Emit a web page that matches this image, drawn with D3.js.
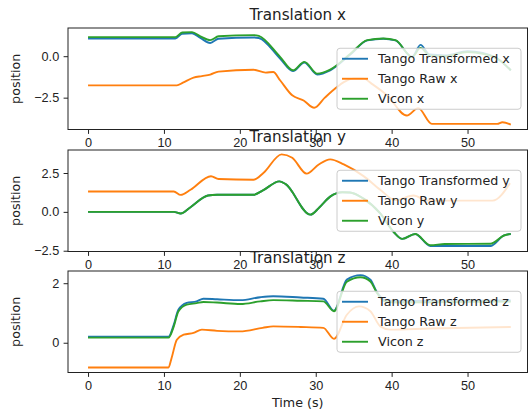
<!DOCTYPE html>
<html lang="en">
<head>
<meta charset="UTF-8">
<title>Translation</title>
<script src="https://d3js.org/d3.v7.min.js"></script>
<style>
  body { margin: 0; background: #fff; }
  svg { display: block; font-family: "DejaVu Sans", sans-serif; }
  .tick text { font-size: 12.7px; fill: #222; }
  .tick line, .domain { stroke: #222; }
</style>
</head>
<body>
<svg width="529" height="413"></svg>
<script>

// data, [time (s), position]
const xTransformed = [[0,1.07],[11.5,1.07],[12.4,1.35],[13.7,1.38],[14.8,1.1],[16.1,0.8],[17.2,1.05],[21.8,1.13],[22.5,1.1],[25.3,-0.14],[27,-0.9],[28.5,-0.38],[30.2,-1.1],[31.9,-0.85],[34.6,0.12],[36.8,0.95],[38.9,1.05],[40.5,0.95],[42.7,-0.04],[43.8,0.68],[45,0.1],[47,0.05],[50,0.3],[52,0.2],[53.9,-0.14],[55.7,-0.85]];
const xRaw = [[0,-1.76],[11.7,-1.76],[12.5,-1.6],[13.9,-1.29],[15,-1.2],[16.1,-1.11],[17.2,-0.93],[21.8,-0.82],[23.4,-0.99],[24.4,-0.95],[25.3,-1.45],[26.9,-2.36],[28.4,-2.67],[29.8,-3.11],[31.2,-2.5],[32.8,-1.86],[33.7,-1.56],[35,-1.35],[36.3,-1.35],[37.5,-1.7],[39.4,-2.36],[42,-3.58],[43.5,-3.13],[45.3,-4.08],[53.9,-4.08],[54.6,-3.98],[55.7,-4.12]];
const xVicon = [[0,1.15],[11.5,1.15],[12.4,1.43],[13.7,1.45],[14.8,1.2],[16.1,0.97],[17.2,1.2],[21.8,1.27],[22.5,1.22],[25.3,-0.04],[27,-0.85],[28.5,-0.34],[30.2,-1.05],[31.9,-0.81],[34.6,0.16],[36.8,0.97],[38.9,1.07],[40.5,0.97],[42.7,-0.04],[43.8,0.5],[45,0.05],[47,0.0],[50,0.25],[52,0.15],[53.9,-0.14],[55.7,-0.85]];

const yTransformed = [[0,0],[11.3,0],[12.2,-0.11],[13.5,0.3],[15.8,1.05],[17,1.1],[21.8,1.1],[23.1,1.4],[25.2,1.96],[26,1.8],[29.3,-0.18],[30.5,0.3],[31.9,0.98],[33.5,1.26],[34.5,1.25],[36.3,0.85],[38.5,-0.1],[40.3,-1.31],[41.4,-1.74],[43.1,-1.42],[45.1,-2.2],[47,-2.2],[53,-2.2],[54.8,-1.52],[55.7,-1.42]];
const yRaw = [[0,1.31],[11.3,1.31],[12.2,1.09],[13.5,1.42],[16.2,2.29],[17.2,2.11],[21.8,2.07],[23.1,2.5],[25.5,3.7],[26.9,3.48],[28.8,2.46],[30.4,3.05],[31.9,3.38],[33.7,3.05],[36.3,2.3],[38.5,1.42],[40.5,0.76],[42.9,1.05],[44.7,0.72],[53.3,0.72],[55.6,1.85]];
const yVicon = [[0,0],[11.3,0],[12.2,-0.11],[13.5,0.3],[15.8,1.05],[17,1.1],[21.8,1.1],[23.1,1.4],[25.2,1.96],[26,1.8],[29.3,-0.18],[30.5,0.3],[31.9,0.98],[33.5,1.26],[34.5,1.25],[36.3,0.85],[38.5,-0.1],[40.3,-1.31],[41.4,-1.74],[43.1,-1.42],[45.1,-2.15],[47,-2.07],[53,-2.05],[54.8,-1.52],[55.7,-1.42]];

const zTransformed = [[0,0.2],[10.6,0.2],[11.3,0.61],[11.9,1.11],[13,1.34],[14.3,1.39],[15.2,1.48],[17,1.46],[20.1,1.43],[22.7,1.53],[24.4,1.56],[28,1.52],[31,1.48],[32.4,1.08],[34.1,2.12],[35.9,2.27],[37.2,2.12],[38,1.73],[39,1.45],[41,1.4],[55.7,1.42]];
const zRaw = [[0,-0.83],[10.6,-0.83],[11,-0.52],[11.7,0.1],[12.6,0.27],[13.9,0.33],[15,0.44],[17,0.4],[20,0.38],[23,0.5],[24.4,0.55],[28,0.53],[31,0.5],[32.4,0.13],[34.1,0.94],[35.7,1.22],[37.2,1.06],[38.5,0.55],[39.8,0.44],[45,0.48],[55.7,0.53]];
const zVicon = [[0,0.17],[10.6,0.17],[11.3,0.55],[11.9,1.05],[13,1.28],[14.3,1.33],[15.2,1.37],[17,1.35],[20.1,1.3],[22.7,1.39],[24.4,1.43],[28,1.41],[31,1.39],[32.4,1.06],[34.1,2.05],[35.9,2.2],[37.2,2.06],[38,1.7],[39,1.4],[41,1.35],[55.7,1.38]];

const axisNames = ['x', 'y', 'z'];
const seriesNames = ['Tango Transformed', 'Tango Raw', 'Vicon'];
const xTicks = [0, 10, 20, 30, 40, 50];
const yTicks = [[-2.5, 0], [-2.5, 0, 2.5], [0, 2]];
const yLimits = [[-4.42, 1.70], [-2.55, 3.98], [-1.0, 2.41]];
const xLimits = [-2.64, 57.9];

const colors = ['#1f77b4', '#ff7f0e', '#2ca02c'];
const panelData = [
    [xTransformed, xRaw, xVicon],
    [yTransformed, yRaw, yVicon],
    [zTransformed, zRaw, zVicon]
];

const svg = d3.select('svg');
const left = 68, right = 527.5;
const tops = [28, 150, 271];
const h = 101.5;
const tickFormats = [d3.format('.1f'), d3.format('.1f'), d3.format('.0f')];

const x = d3.scaleLinear().domain(xLimits).range([left, right]);

panelData.forEach((series, p) => {
    const top = tops[p], bottom = top + h;
    const y = d3.scaleLinear().domain(yLimits[p]).range([bottom, top]);
    const g = svg.append('g').attr('class', 'panel');

    g.append('rect')
        .attr('x', left).attr('y', top)
        .attr('width', right - left).attr('height', h)
        .attr('fill', '#fff');

    const line = d3.line()
        .x(d => x(d[0]))
        .y(d => y(d[1]))
        .curve(d3.curveMonotoneX);

    series.forEach((s, i) => {
        g.append('path')
            .datum(s)
            .attr('d', line)
            .attr('fill', 'none')
            .attr('stroke', colors[i])
            .attr('stroke-width', 1.9)
            .attr('stroke-linejoin', 'round');
    });

    g.append('g')
        .attr('transform', `translate(0,${bottom})`)
        .call(d3.axisBottom(x).tickValues(xTicks).tickSize(4.4).tickPadding(4))
        .call(a => a.select('.domain').remove());

    g.append('g')
        .attr('transform', `translate(${left},0)`)
        .call(d3.axisLeft(y).tickValues(yTicks[p]).tickFormat(tickFormats[p]).tickSize(4.4).tickPadding(4.4))
        .call(a => a.select('.domain').remove());

    g.append('rect')
        .attr('x', left).attr('y', top)
        .attr('width', right - left).attr('height', h)
        .attr('fill', 'none')
        .attr('stroke', '#222')
        .attr('stroke-width', 1);

    g.append('text')
        .attr('x', (left + right) / 2)
        .attr('y', top - 7.6)
        .attr('text-anchor', 'middle')
        .style('font-size', '15.2px')
        .style('fill', '#222')
        .text('Translation ' + axisNames[p]);

    g.append('text')
        .attr('transform', `translate(20,${top + h / 2}) rotate(-90)`)
        .attr('text-anchor', 'middle')
        .style('font-size', '12.7px')
        .style('fill', '#222')
        .text('position');

    // legend, centre right
    const lw = 184, lh = 61;
    const lx = 521 - lw, ly = top + h / 2 - lh / 2;
    const leg = g.append('g').attr('transform', `translate(${lx},${ly})`);
    leg.append('rect')
        .attr('width', lw).attr('height', lh)
        .attr('rx', 3)
        .attr('fill', '#fff').attr('fill-opacity', 0.8)
        .attr('stroke', '#ccc').attr('stroke-width', 1);
    seriesNames.forEach((name, i) => {
        const ry = 10.5 + i * 20;
        leg.append('line')
            .attr('x1', 5).attr('x2', 31)
            .attr('y1', ry).attr('y2', ry)
            .attr('stroke', colors[i])
            .attr('stroke-width', 1.9);
        leg.append('text')
            .attr('x', 41).attr('y', ry)
            .attr('dy', '0.36em')
            .style('font-size', '12.7px')
            .style('fill', '#222')
            .text(name + ' ' + axisNames[p]);
    });
});

svg.append('text')
    .attr('x', (left + right) / 2)
    .attr('y', 407)
    .attr('text-anchor', 'middle')
    .style('font-size', '12.7px')
    .style('fill', '#222')
    .text('Time (s)');

</script>
</body>
</html>
